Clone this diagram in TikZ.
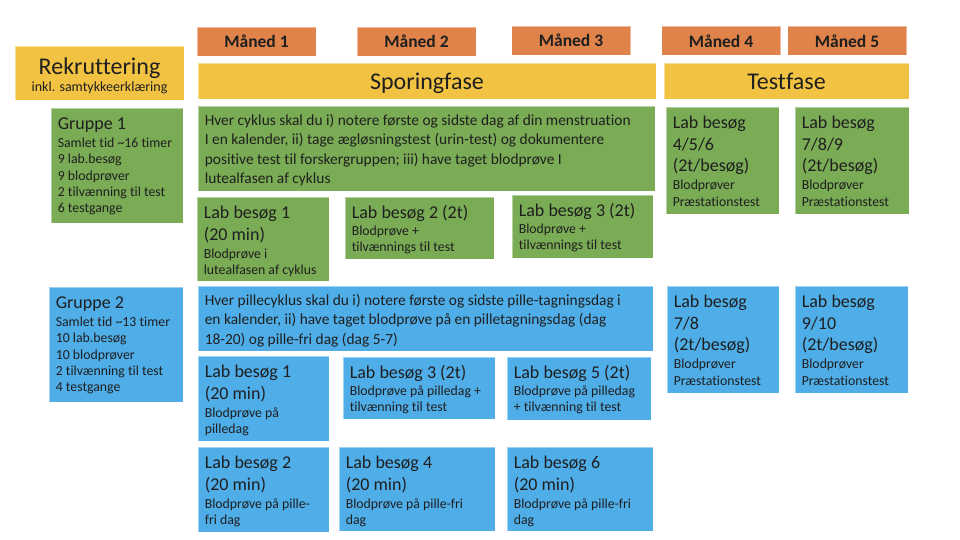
\documentclass[tikz,border=0pt]{standalone}
\usepackage{fontspec}
\setmainfont{Carlito}[Ligatures = NoCommon]
\usepackage{tikz}
\usetikzlibrary{calc}
\usetikzlibrary{positioning}
\definecolor{org}{HTML}{E0834A}
\definecolor{ylw}{HTML}{F2C342}
\definecolor{grn}{HTML}{7AAB55}
\definecolor{blu}{HTML}{4FADE8}
\newcommand{\hfnt}{\fontsize{18}{22}\selectfont}
\newcommand{\sfnt}{\fontsize{13.8}{16.3}\selectfont\lineskiplimit=-50pt\relax}
\newcommand{\mfnt}{\fontsize{15.4}{19.3}\selectfont\lineskiplimit=-50pt\relax}
\newcommand{\rfnt}{\fontsize{14}{17}\selectfont\lineskiplimit=-50pt\relax}
\tikzstyle{box} = [rectangle, inner sep = 0, draw = white, draw opacity = 0.45, line width = 0.8pt]
\tikzstyle{month} = [box, fill = org, minimum width = 119pt, minimum height = 29pt, text depth = 0pt, font = \fontsize{17.5}{20}\selectfont\bfseries]
\tikzstyle{phase} = [box, fill = ylw, minimum height = 36pt, text depth = 0pt, font = \fontsize{24}{28}\selectfont]
\tikzstyle{g1} = [box, fill = grn]
\tikzstyle{g2} = [box, fill = blu]
\tikzstyle{txt} = [anchor = north west, inner sep = 0, align = left, font = \sfnt]
\tikzstyle{txtbig} = [txt, font = \mfnt, yshift = 0.5pt]
% box with top-left text: name, box style, text style, x1, y1, x2, y2, text
\newcommand{\infobox}[8]{%
  \node [#2, minimum width = {(#6-#4)*1pt}, minimum height = {(#7-#5)*1pt}] (#1) at ({(#4+#6)/2}, {(#5+#7)/2}) {};
  \node [#3] (#1-t) at ([shift = {(7pt, -9pt)}] #1.north west) {#8};
}

\begin{document}
\begin{tikzpicture}[x = 1pt, y = -1pt, text = black!88]
\useasboundingbox (0, 0) rectangle (960, 540);

% months
\node [month] (m1) at (256.5, 41.5) {Måned 1};
\node [month] (m2) at (416.5, 41.5) {Måned 2};
\node [month] (m3) at (571, 40.5) {Måned 3};
\node [month] (m4) at (721, 41) {Måned 4};
\node [month] (m5) at (847, 41) {Måned 5};

% phases
\node [phase, minimum width = 169pt, minimum height = 54pt] (rek) at (99.5, 73) {};
\node [align = center, inner sep = 0, font = \rfnt] (rek-t) at (99.5, 76) {\fontsize{24}{28}\selectfont Rekruttering\\inkl. samtykkeerklæring};
\node [phase, minimum width = 458pt] (spor) at (427, 81) {Sporingfase};
\node [phase, minimum width = 245pt] (test) at (786.5, 81) {Testfase};

% gruppe 1
\infobox{gr1}{g1}{txt, yshift = -1pt}{51}{108}{183}{223}{\hfnt Gruppe 1\\[1.7pt]Samlet tid \textasciitilde16 timer\\9 lab.besøg\\9 blodprøver\\2 tilvænning til test\\6 testgange}
\infobox{info1}{g1}{txtbig}{198}{106}{655}{191}{Hver cyklus skal du i) notere første og sidste dag af din menstruation\\I en kalender, ii) tage ægløsningstest (urin-test) og dokumentere\\positive test til forskergruppen; iii) have taget blodprøve I\\lutealfasen af cyklus}
\infobox{g1lab1}{g1}{txt}{197}{197}{329}{281}{\hfnt Lab besøg 1\\[5.5pt]\hfnt (20 min)\\[1.7pt]Blodprøve i\\lutealfasen af cyklus}
\infobox{g1lab2}{g1}{txt}{345}{197}{494}{259}{\hfnt Lab besøg 2 (2t)\\Blodprøve +\\tilvænnings til test}
\infobox{g1lab3}{g1}{txt}{512}{195}{653}{258}{\hfnt Lab besøg 3 (2t)\\Blodprøve +\\tilvænnings til test}
\infobox{g1lab4}{g1}{txt}{666}{107}{779}{214}{\hfnt Lab besøg\\[5.5pt]\hfnt 4/5/6\\[5.5pt]\hfnt (2t/besøg)\\[1.7pt]Blodprøver\\Præstationstest}
\infobox{g1lab7}{g1}{txt}{795}{107}{909}{214}{\hfnt Lab besøg\\[5.5pt]\hfnt 7/8/9\\[5.5pt]\hfnt (2t/besøg)\\[1.7pt]Blodprøver\\Præstationstest}

% gruppe 2
\infobox{gr2}{g2}{txt, yshift = -1pt}{49}{287}{183}{402}{\hfnt Gruppe 2\\[1.7pt]Samlet tid \textasciitilde13 timer\\10 lab.besøg\\10 blodprøver\\2 tilvænning til test\\4 testgange}
\infobox{info2}{g2}{txtbig}{198}{286}{653}{351}{Hver pillecyklus skal du i) notere første og sidste pille-tagningsdag i\\en kalender, ii) have taget blodprøve på en pilletagningsdag (dag\\18-20) og pille-fri dag (dag 5-7)}
\infobox{g2lab1}{g2}{txt}{198}{356}{329}{441}{\hfnt Lab besøg 1\\[5.5pt]\hfnt (20 min)\\[1.7pt]Blodprøve på\\pilledag}
\infobox{g2lab3}{g2}{txt}{343}{357}{495}{419}{\hfnt Lab besøg 3 (2t)\\Blodprøve på pilledag +\\tilvænning til test}
\infobox{g2lab5}{g2}{txt}{507}{357}{651}{420}{\hfnt Lab besøg 5 (2t)\\Blodprøve på pilledag\\+ tilvænning til test}
\infobox{g2lab2}{g2}{txt}{198}{447}{329}{532}{\hfnt Lab besøg 2\\[5.5pt]\hfnt (20 min)\\[1.7pt]Blodprøve på pille-\\fri dag}
\infobox{g2lab4}{g2}{txt}{339}{447}{495}{531}{\hfnt Lab besøg 4\\[5.5pt]\hfnt (20 min)\\[1.7pt]Blodprøve på pille-fri\\dag}
\infobox{g2lab6}{g2}{txt}{507}{447}{653}{531}{\hfnt Lab besøg 6\\[5.5pt]\hfnt (20 min)\\[1.7pt]Blodprøve på pille-fri\\dag}
\infobox{g2lab7}{g2}{txt}{667}{286}{779}{393}{\hfnt Lab besøg\\[5.5pt]\hfnt 7/8\\[5.5pt]\hfnt (2t/besøg)\\[1.7pt]Blodprøver\\Præstationstest}
\infobox{g2lab9}{g2}{txt}{795}{286}{908}{393}{\hfnt Lab besøg\\[5.5pt]\hfnt 9/10\\[5.5pt]\hfnt (2t/besøg)\\[1.7pt]Blodprøver\\Præstationstest}
\end{tikzpicture}
\end{document}
